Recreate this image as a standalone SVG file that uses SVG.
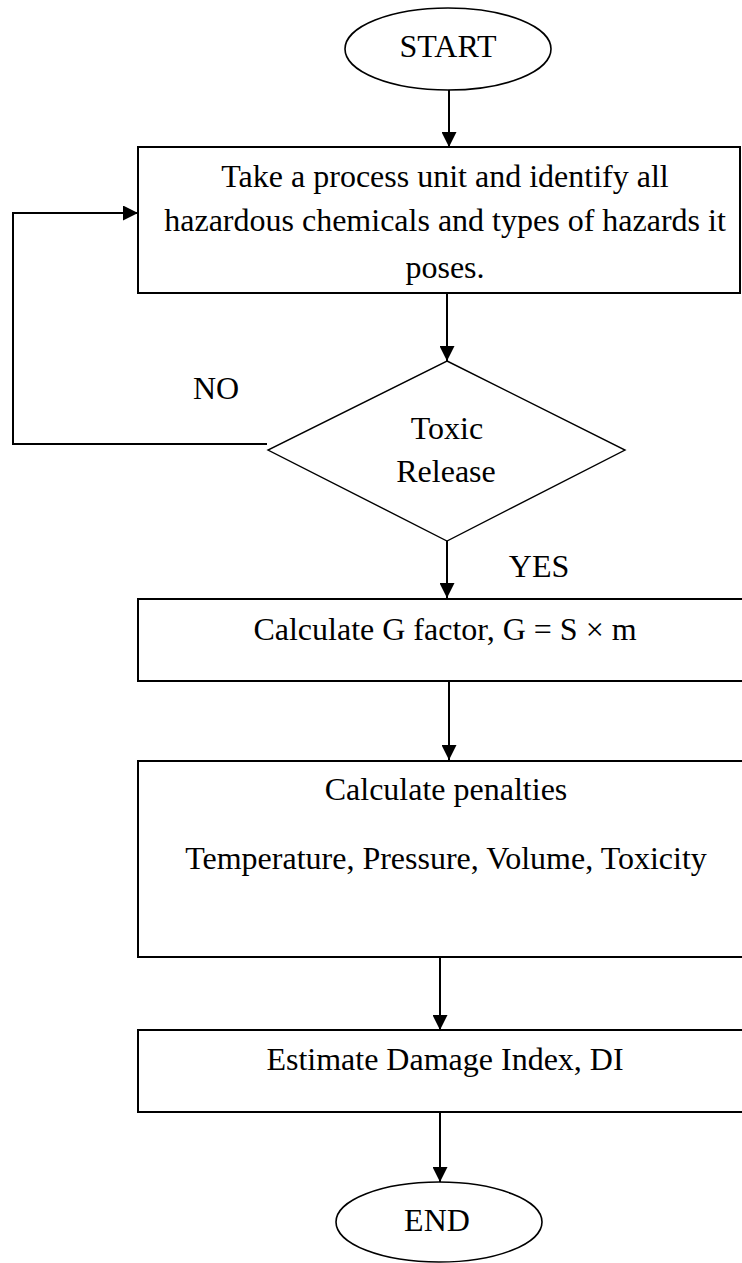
<svg xmlns="http://www.w3.org/2000/svg" width="742" height="1263" viewBox="0 0 742 1263">
<style>
  .t { font-family: "Liberation Serif", "Times New Roman", serif; font-size: 32px; fill: #000; text-anchor: middle; }
  .box { fill: #fff; stroke: #000; stroke-width: 2; }
  .term { fill: #fff; stroke: #000; stroke-width: 1.6; }
  .dec { fill: #fff; stroke: #000; stroke-width: 1.4; }
  .conn { fill: none; stroke: #000; stroke-width: 2; }
</style>
<defs>
  <marker id="ah" markerUnits="userSpaceOnUse" markerWidth="15" markerHeight="15" refX="15" refY="7.5" orient="auto">
    <path d="M0,0 L15,7.5 L0,15 z" fill="#000"/>
  </marker>
</defs>
<rect width="742" height="1263" fill="#fff"/>

<g id="connectors">
  <line class="conn" x1="449" y1="90" x2="449" y2="147" marker-end="url(#ah)"/>
  <line class="conn" x1="447" y1="293" x2="447" y2="361" marker-end="url(#ah)"/>
  <polyline class="conn" points="267,444 13,444 13,213 138,213" marker-end="url(#ah)"/>
  <line class="conn" x1="447" y1="541" x2="447" y2="598" marker-end="url(#ah)"/>
  <line class="conn" x1="449" y1="681" x2="449" y2="760" marker-end="url(#ah)"/>
  <line class="conn" x1="440" y1="957" x2="440" y2="1030" marker-end="url(#ah)"/>
  <line class="conn" x1="440" y1="1112" x2="440" y2="1182" marker-end="url(#ah)"/>
  <text class="t" x="216" y="399">NO</text>
  <text class="t" x="539" y="577">YES</text>
</g>

<g id="start">
  <ellipse class="term" cx="448" cy="49" rx="103" ry="41"/>
  <text class="t" x="448" y="57">START</text>
</g>

<g id="identify">
  <rect class="box" x="138" y="147" width="602" height="146"/>
  <text class="t" x="445" y="187">Take a process unit and identify all</text>
  <text class="t" x="445" y="231">hazardous chemicals and types of hazards it</text>
  <text class="t" x="445" y="278">poses.</text>
</g>

<g id="decision">
  <polygon class="dec" points="447,361 625,450 447,541 268,450"/>
  <text class="t" x="447" y="439">Toxic</text>
  <text class="t" x="446" y="482">Release</text>
</g>

<g id="gfactor">
  <rect class="box" x="138" y="599" width="625" height="82"/>
  <text class="t" x="445" y="640">Calculate G factor, G = S × m</text>
</g>

<g id="penalties">
  <rect class="box" x="138" y="761" width="625" height="196"/>
  <text class="t" x="446" y="800">Calculate penalties</text>
  <text class="t" x="446" y="869">Temperature, Pressure, Volume, Toxicity</text>
</g>

<g id="damage">
  <rect class="box" x="138" y="1030" width="625" height="82"/>
  <text class="t" x="445" y="1070">Estimate Damage Index, DI</text>
</g>

<g id="end">
  <ellipse class="term" cx="439" cy="1222" rx="103" ry="40"/>
  <text class="t" x="437" y="1231">END</text>
</g>
</svg>
